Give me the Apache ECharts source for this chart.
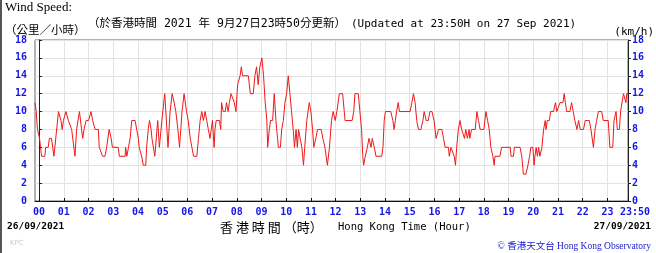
<!DOCTYPE html>
<html>
<head>
<meta charset="utf-8">
<script src="https://cdn.jsdelivr.net/npm/echarts@6/dist/echarts.min.js"></script>
<style>
html,body{margin:0;padding:0;background:#fff;}
#c{width:656px;height:253px;}
</style>
</head>
<body>
<div id="c"></div>
<script>
// Time in minutes from 27/09/2021 00:00 (negative = 26/09 evening)
var minutes = [-10,-7,-4,1,6,14,16,22,25,30,33,36,40,47,53,56,59,65,71,75,79,87,91,98,100,103,106,109,114,120,126,130,136,144,146,154,160,164,170,175,178,192,195,209,210,213,217,221,225,233,237,241,243,249,253,259,261,265,268,272,274,281,288,292,298,305,313,318,323,328,332,337,341,344,347,352,358,362,367,371,375,383,387,391,395,399,403,407,411,415,418,421,425,427,430,438,441,443,447,452,455,459,462,466,470,474,478,482,488,491,494,508,513,520,524,528,532,536,541,545,549,553,555,559,562,567,571,575,579,581,586,589,593,597,601,605,609,613,617,620,624,627,630,634,638,642,645,650,656,660,664,667,672,676,685,689,694,700,705,710,714,719,723,729,737,741,743,760,764,767,775,779,783,786,788,792,797,801,806,809,814,818,832,835,838,841,854,859,862,865,868,872,875,901,905,909,913,917,921,927,932,935,940,945,949,954,959,964,970,978,982,986,994,996,1000,1004,1008,1011,1014,1018,1022,1026,1030,1033,1036,1040,1044,1046,1050,1059,1063,1067,1071,1080,1085,1089,1093,1097,1102,1105,1107,1119,1123,1144,1146,1152,1154,1168,1172,1176,1182,1187,1191,1194,1199,1202,1204,1207,1210,1213,1216,1221,1225,1229,1231,1234,1239,1242,1249,1254,1257,1261,1265,1272,1275,1278,1281,1289,1293,1297,1301,1306,1310,1314,1322,1326,1336,1340,1346,1350,1354,1358,1366,1370,1382,1386,1393,1396,1401,1404,1409,1412,1415,1419,1423,1425,1427,1430];
var speeds = [11,10,8,7,5,5,6,6,7,7,6,5,5,10,9,8,9,10,9,9,8,5,8,10,10,8,7,8,9,9,10,9,8,8,6,5,5,6,8,7,6,6,5,5,6,5,6,7,9,9,8,7,6,5,4,4,6,8,9,8,7,5,9,6,9,12,6,10,12,11,10,8,6,8,10,12,10,9,7,6,5,5,7,9,10,9,10,9,8,7,8,9,6,8,9,9,8,11,10,10,11,10,11,12,12,11,10,13,14,15,14,14,12,12,14,15,13,15,16,14,11,9,6,8,9,9,12,9,7,6,6,8,9,11,12,14,12,10,8,6,8,6,8,7,6,4,6,9,11,10,8,6,7,8,8,7,6,4,6,9,10,9,10,12,12,10,9,9,10,12,12,10,8,5,4,5,6,7,6,7,6,5,5,6,9,10,10,9,8,9,10,11,10,10,11,12,11,9,8,8,9,10,9,9,10,10,9,7,8,8,7,6,6,5,6,6,5,4,6,8,9,8,8,7,8,7,8,7,8,8,10,9,8,8,10,9,8,6,5,4,5,5,6,6,5,5,6,6,5,3,3,4,5,6,6,4,5,6,5,6,5,6,8,9,8,9,9,10,10,11,10,10,11,11,12,11,10,10,11,10,9,8,9,8,8,9,9,8,6,8,9,10,10,9,9,6,6,9,10,8,8,10,10,12,12,11,12,12];
var hourTicks = [0,60,120,180,240,300,360,420,480,540,600,660,720,780,840,900,960,1020,1080,1140,1200,1260,1320,1380,1430];
var hourLabels = ['00','01','02','03','04','05','06','07','08','09','10','11','12','13','14','15','16','17','18','19','20','21','22','23','23:50'];

var seriesData = minutes.map(function(m,i){return [m, speeds[i]];});
var labelMap = {};
hourTicks.forEach(function(t,i){labelMap[t]=hourLabels[i];});
var lastTick = hourTicks[hourTicks.length-1];
var labelTicks = hourTicks.slice(0, hourTicks.length-1);

var blue = '#1515e6';

var chart = echarts.init(document.getElementById('c'), null, {renderer:'canvas'});
chart.setOption({
  animation:false,
  backgroundColor:'#fff',
  grid:{left:35, right:28, top:40, bottom:52, show:true, borderColor:'#666', borderWidth:1},
  xAxis:{
    type:'value', min:-10, max:1430,
    axisLine:{show:true, onZero:false, lineStyle:{color:'#111', width:1}},
    axisTick:{show:true, inside:true, length:3, customValues:hourTicks, lineStyle:{color:'#111'}},
    axisLabel:{customValues:labelTicks, hideOverlap:false,
      formatter:function(v){return labelMap[v]!==undefined?labelMap[v]:'';},
      color:blue, fontFamily:'DejaVu Sans Mono', fontWeight:'bold', fontSize:10, margin:6},
    splitLine:{show:true, lineStyle:{color:'#e2e2e2', width:1}}
  },
  yAxis:[{
    type:'value', min:0, max:18, interval:2, position:'left',
    axisLine:{show:true, lineStyle:{color:'#222'}},
    axisTick:{show:true, inside:true, length:3, lineStyle:{color:'#222'}},
    axisLabel:{color:blue, fontFamily:'DejaVu Sans Mono', fontWeight:'bold', fontSize:10, margin:8},
    splitLine:{show:true, lineStyle:{color:'#e2e2e2', width:1}}
  },{
    type:'value', min:0, max:18, interval:2, position:'right',
    axisLine:{show:true, lineStyle:{color:'#222'}},
    axisTick:{show:true, inside:false, length:3, lineStyle:{color:'#222'}},
    axisLabel:{color:blue, fontFamily:'DejaVu Sans Mono', fontWeight:'bold', fontSize:10, margin:4},
    splitLine:{show:false}
  }],
  series:[{
    type:'line', data:seriesData, showSymbol:false, symbol:'none',
    lineStyle:{color:'#f01818', width:1}, itemStyle:{color:'#f01818'}
  }],
  graphic:[
    {type:'rect', left:0, top:0, shape:{width:2, height:253}, style:{fill:'#555'}},
    {type:'text', x:5, y:8, style:{text:'Wind Speed:', font:'13px "Liberation Serif", serif', fill:'#000', align:'left', verticalAlign:'middle'}},
    {type:'text', x:5, y:30, style:{text:'（公里／小時）', font:'11.5px "Noto Sans CJK TC", sans-serif', fill:'#000', align:'left', verticalAlign:'middle'}},
    {type:'text', x:88, y:24, style:{text:'（於香港時間 2021 年 9月27日23時50分更新）', font:'11.5px "DejaVu Sans Mono", "Noto Sans CJK TC", monospace', fill:'#000', align:'left', verticalAlign:'middle'}},
    {type:'text', x:351, y:24, style:{text:'(Updated at 23:50H on 27 Sep 2021)', font:'11px "DejaVu Sans Mono", monospace', fill:'#000', align:'left', verticalAlign:'middle'}},
    {type:'text', x:654, y:32, style:{text:'(km/h)', font:'11px "DejaVu Sans Mono", monospace', fill:'#000', align:'right', verticalAlign:'middle'}},
    {type:'text', x:7, y:227, style:{text:'26/09/2021', font:'bold 9.5px "DejaVu Sans Mono", monospace', fill:'#000', align:'left', verticalAlign:'middle'}},
    {type:'text', x:651, y:227, style:{text:'27/09/2021', font:'bold 9.5px "DejaVu Sans Mono", monospace', fill:'#000', align:'right', verticalAlign:'middle'}},
    {type:'text', x:220, y:227, style:{text:'香 港 時 間 （時）', font:'13px "Noto Sans CJK TC", serif', fill:'#000', align:'left', verticalAlign:'middle'}},
    {type:'text', x:338, y:227, style:{text:'Hong Kong Time (Hour)', font:'10.5px "DejaVu Sans Mono", monospace', fill:'#000', align:'left', verticalAlign:'middle'}},
    {type:'text', x:10, y:243, style:{text:'KPC', font:'7px "DejaVu Sans", sans-serif', fill:'#ccc', align:'left', verticalAlign:'middle'}},
    {type:'text', x:651, y:246, style:{text:'© 香港天文台 Hong Kong Observatory', font:'9.5px "Liberation Serif", "Noto Sans CJK TC", serif', fill:'#1a1acc', align:'right', verticalAlign:'middle'}}
  ]
});
// last tick label (23:50) placed through the axis scale, slightly right as in the original
var lastPx = chart.convertToPixel({xAxisIndex:0}, lastTick);
var basePx = chart.convertToPixel({yAxisIndex:0}, 0);
chart.setOption({graphic:[{id:'lastLabel', type:'text', x:lastPx+7, y:basePx+11,
  style:{text:labelMap[lastTick], font:'bold 10px "DejaVu Sans Mono", monospace', fill:blue, align:'center', verticalAlign:'middle'}}]});
</script>
</body>
</html>
